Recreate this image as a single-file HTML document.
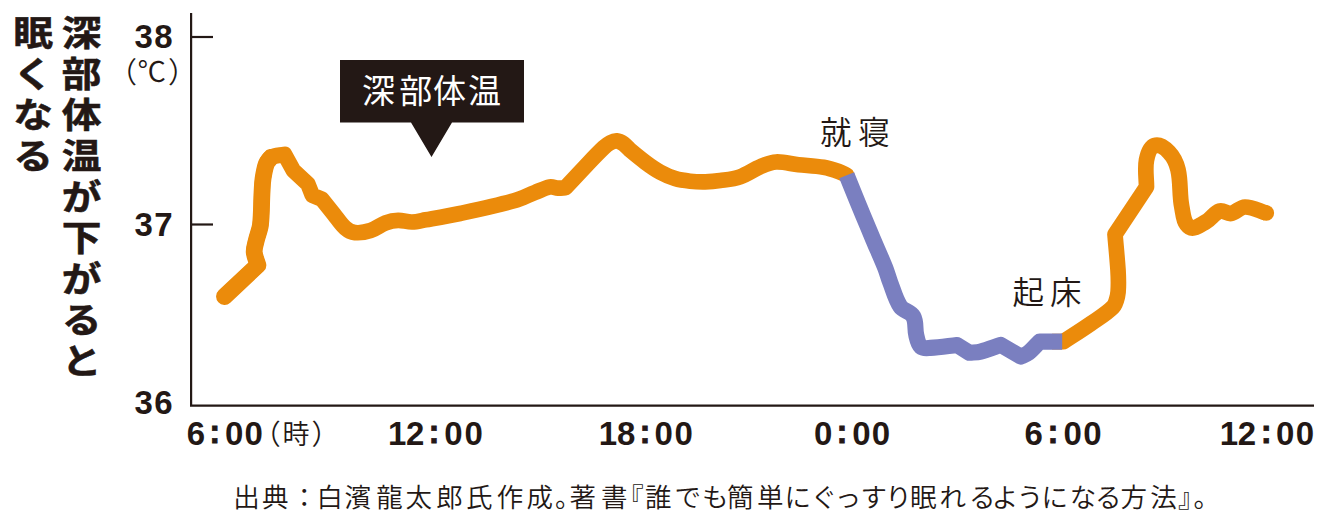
<!DOCTYPE html>
<html lang="ja">
<head>
<meta charset="utf-8">
<title>深部体温が下がると眠くなる</title>
<style>
html,body{margin:0;padding:0;background:#fff;}
body{width:1340px;height:526px;overflow:hidden;position:relative;}
svg{position:absolute;left:0;top:0;display:block;}
text{fill:#231815;}
.jp{font-family:"Liberation Sans","Noto Sans CJK JP",sans-serif;}
.num{font-family:"Liberation Sans","Noto Sans CJK JP",sans-serif;font-weight:700;font-size:33px;}
.col{stroke:#231815;stroke-width:0.8px;}
.title{font-family:"Liberation Sans","Noto Sans CJK JP",sans-serif;font-weight:700;font-size:38px;text-anchor:middle;stroke:#231815;stroke-width:0.6px;}
.lbl{font-family:"Liberation Sans","Noto Sans CJK JP",sans-serif;font-weight:350;font-size:31.5px;}
.unit{font-family:"Liberation Sans","Noto Sans CJK JP",sans-serif;font-weight:350;}
.par{font-size:29px;}.deg{font-size:28.5px;}.par2{font-size:28px;}.ji{font-size:27px;}
.cap{font-family:"Liberation Sans","Noto Sans CJK JP",sans-serif;font-weight:350;font-size:26.5px;}
.box{font-family:"Liberation Sans","Noto Sans CJK JP",sans-serif;font-weight:400;font-size:33px;fill:#fff;}
</style>
</head>
<body>
<svg width="1340" height="526" viewBox="0 0 1340 526">
  <!-- axes -->
  <g stroke="#231815" stroke-width="2.2" fill="none">
    <path d="M191.1 13 V405.6 H1314"/>
    <path d="M191 37 H213"/>
    <path d="M191 224.5 H213"/>
  </g>

  <!-- curve -->
  <g fill="none" stroke-width="15.7" stroke-linejoin="round">
    <path id="c0" stroke="#eb8b0b" stroke-width="16.8" stroke-linecap="round" d="M224.5 296.5 L257.9 265.2 C256.7 260.8 254.5 256.6 254.2 252.0 C254.0 247.9 255.5 244.0 256.4 240.0 C257.6 234.8 259.9 229.8 260.5 224.5 C261.7 214.0 261.4 203.3 262.0 192.7 C262.3 188.1 262.3 183.5 263.0 179.0 C263.8 173.9 264.5 168.8 266.3 164.0 C267.2 161.5 269.4 159.6 271.0 157.4"/>
    <path id="c1" stroke="#eb8b0b" stroke-linecap="round" d="M224.5 296.5 L257.9 265.2 C256.7 260.8 254.5 256.6 254.2 252.0 C254.0 247.9 255.5 244.0 256.4 240.0 C257.6 234.8 259.9 229.8 260.5 224.5 C261.7 214.0 261.4 203.3 262.0 192.7 C262.3 188.1 262.3 183.5 263.0 179.0 C263.8 173.9 264.5 168.8 266.3 164.0 C267.2 161.5 268.6 158.7 271.0 157.4 C275.1 155.2 280.1 155.4 284.6 154.4 L293.4 170.5 L307.9 184.0 L312.3 195.2 L322.0 199.3 C326.0 204.3 330.0 209.3 334.0 214.3 C337.7 218.9 340.8 224.1 345.3 228.0 C348.0 230.4 351.4 232.2 355.0 232.6 C360.2 233.1 365.5 232.2 370.5 230.6 C375.9 228.9 380.4 224.8 385.7 222.8 C389.7 221.3 394.0 220.4 398.2 220.3 C402.8 220.2 407.4 222.1 412.0 222.0 C416.7 221.9 421.2 220.6 425.8 219.8 C437.2 217.8 448.7 215.9 460.0 213.5 C478.1 209.6 496.2 205.8 514.0 200.8 C521.2 198.8 528.0 195.2 535.0 192.5 C540.0 190.6 544.8 187.9 550.0 186.9 C552.7 186.4 555.3 188.1 558.0 188.2 C560.5 188.3 563.0 187.8 565.5 187.6 C572.8 179.8 580.0 172.0 587.3 164.3 C592.7 158.6 598.1 152.9 603.8 147.5 C605.8 145.6 608.0 143.9 610.5 142.6 C612.4 141.6 614.6 140.7 616.8 140.9 C619.2 141.1 621.5 142.4 623.5 143.8 C626.0 145.5 627.8 148.1 630.1 150.1 C635.0 154.2 639.9 158.3 645.1 162.1 C649.9 165.7 654.8 169.2 660.1 172.1 C664.9 174.7 669.9 177.0 675.1 178.6 C680.0 180.1 685.1 180.7 690.2 181.2 C695.2 181.7 700.2 181.9 705.2 181.8 C710.2 181.7 715.2 181.3 720.2 180.6 C726.9 179.6 733.7 179.0 740.0 176.8 C747.3 174.3 753.6 169.4 760.8 166.5 C765.7 164.5 770.7 162.3 776.0 162.0 C783.5 161.6 791.0 163.9 798.5 164.7 C806.9 165.6 815.3 165.9 823.6 167.3 C828.7 168.2 833.7 169.8 838.6 171.5 C841.4 172.5 844.0 174.0 846.7 175.3"/>
    <path id="c3" stroke="#eb8b0b" stroke-linecap="butt" d="M1052.0 341.6 L1063.5 341.6 C1072.7 335.6 1082.0 329.8 1091.0 323.5 C1098.5 318.2 1106.6 313.6 1113.0 307.0 C1115.7 304.1 1116.6 299.8 1117.5 296.0 C1118.4 292.4 1118.3 288.7 1118.4 285.0 C1118.5 280.0 1118.3 275.0 1118.0 270.0 C1117.2 258.1 1116.0 246.2 1115.0 234.3 L1146.5 187.0 C1146.5 178.0 1144.8 168.8 1146.5 160.0 C1147.6 154.6 1149.5 147.3 1154.7 145.5 C1159.7 143.8 1165.3 148.4 1169.0 152.2 C1173.5 156.9 1176.5 163.2 1178.0 169.6 C1180.9 181.8 1179.3 194.7 1181.8 207.0 C1183.2 214.1 1183.4 223.5 1189.6 227.2 C1194.5 230.2 1200.9 224.4 1206.0 221.7 C1211.1 219.0 1214.2 212.8 1219.7 211.0 C1223.3 209.8 1227.1 214.1 1230.8 213.5 C1235.9 212.7 1239.8 207.1 1245.0 207.0 C1252.4 206.9 1259.2 211.0 1266.3 213.0"/>
    <path id="cend" stroke="#eb8b0b" stroke-linecap="round" d="M1266.2 213.0 L1266.3 213.0"/>
    <path id="c2" stroke="#7a7fc0" stroke-width="16.1" stroke-linecap="butt" d="M846.7 175.3 C849.7 182.8 852.8 190.2 855.8 197.7 C858.2 203.5 860.6 209.4 863.0 215.2 C866.5 223.6 870.0 231.9 873.5 240.3 C877.4 249.5 881.6 258.7 885.3 268.0 C887.2 272.8 888.4 277.8 890.3 282.6 C893.4 290.6 895.5 299.4 900.3 306.5 C903.4 311.0 910.6 311.7 913.3 316.5 C916.4 322.0 914.7 329.1 916.3 335.3 C917.3 339.3 917.9 344.0 921.0 346.8 C923.4 348.9 927.2 348.1 930.4 347.9 C939.3 347.5 948.1 346.0 957.0 345.0 L969.5 352.8 C973.2 352.4 977.0 352.5 980.6 351.6 C987.4 349.9 994.0 347.1 1000.7 344.9 L1020.8 356.6 C1023.3 355.4 1026.1 354.6 1028.3 352.9 C1032.5 349.6 1035.8 345.4 1039.6 341.6 L1062.2 341.6"/>
  </g>

  <!-- label box -->
  <path fill="#231815" d="M340 60 H524 V122.5 H452 L431.5 157 L411 122.5 H340 Z"/>
  <text class="box" x="362 399.2 432.9 468" y="103.3">深部体温</text>

  <!-- y axis labels -->
  <text class="num" x="134.5 154.2" y="47.6">38</text>
  <text class="num" x="134.5 154.2" y="236.2">37</text>
  <text class="num" x="134.5 154.2" y="413.8">36</text>
  <text class="unit"><tspan class="par" x="108" y="83">（</tspan><tspan class="deg" x="137.6" y="81.6">℃</tspan><tspan class="par" x="168" y="83">）</tspan></text>

  <!-- x axis labels -->
  <text class="num"><tspan x="186.8" y="445.3">6</tspan><tspan class="col" x="209.2" y="442.7">:</tspan><tspan x="225.1 244.6" y="445.3">00</tspan></text>
  <text class="unit"><tspan class="par2" x="252.8" y="444.5">（</tspan><tspan class="ji" x="282.5" y="443.6">時</tspan><tspan class="par2" x="311.5" y="444.5">）</tspan></text>
  <text class="num"><tspan x="388.1 406" y="445.3">12</tspan><tspan class="col" x="428.6" y="442.7">:</tspan><tspan x="444.3 464.6" y="445.3">00</tspan></text>
  <text class="num"><tspan x="598.7 617.1" y="445.3">18</tspan><tspan class="col" x="639.6" y="442.7">:</tspan><tspan x="654.6 674.6" y="445.3">00</tspan></text>
  <text class="num"><tspan x="814" y="445.3">0</tspan><tspan class="col" x="836.4" y="442.7">:</tspan><tspan x="852.3 871.8" y="445.3">00</tspan></text>
  <text class="num"><tspan x="1024.6" y="445.3">6</tspan><tspan class="col" x="1047.4" y="442.7">:</tspan><tspan x="1063.5 1083.3" y="445.3">00</tspan></text>
  <text class="num"><tspan x="1219.8 1237.7" y="445.3">12</tspan><tspan class="col" x="1260.7" y="442.7">:</tspan><tspan x="1276 1295.8" y="445.3">00</tspan></text>

  <!-- annotations -->
  <text class="lbl" x="819.9 858.2" y="143.8">就寝</text>
  <text class="lbl" x="1012.5 1050.1" y="303.7">起床</text>

  <!-- vertical title -->
  <g transform="scale(1.045 0.93)">
  <text class="title" x="78.13 78.13 78.13 78.13 78.13 78.13 78.13 78.13 78.13" y="49.14 93.28 137.42 181.56 225.70 269.84 313.98 358.12 402.26">深部体温が下がると</text>
  <text class="title" x="31.77 31.77 31.77 31.77" y="49.14 93.28 137.42 181.56">眠くなる</text>
  </g>

  <!-- caption -->
  <text class="cap" x="233.2 262.0 290.9 316.5 344.6 376.2 405.5 436.3 465.9 496.8 526.6 555 569.6 600.9 617.3 645 674.6 701.9 727.1 756.9 784.5 810.8 834.7 860.6 885.2 910.1 939.5 969 991.7 1016.7 1041.5 1069.7 1094.9 1120.5 1150.3 1178 1193.6" y="507.3">出典：白濱龍太郎氏作成。著書『誰でも簡単にぐっすり眠れるようになる方法』。</text>
</svg>
</body>
</html>
